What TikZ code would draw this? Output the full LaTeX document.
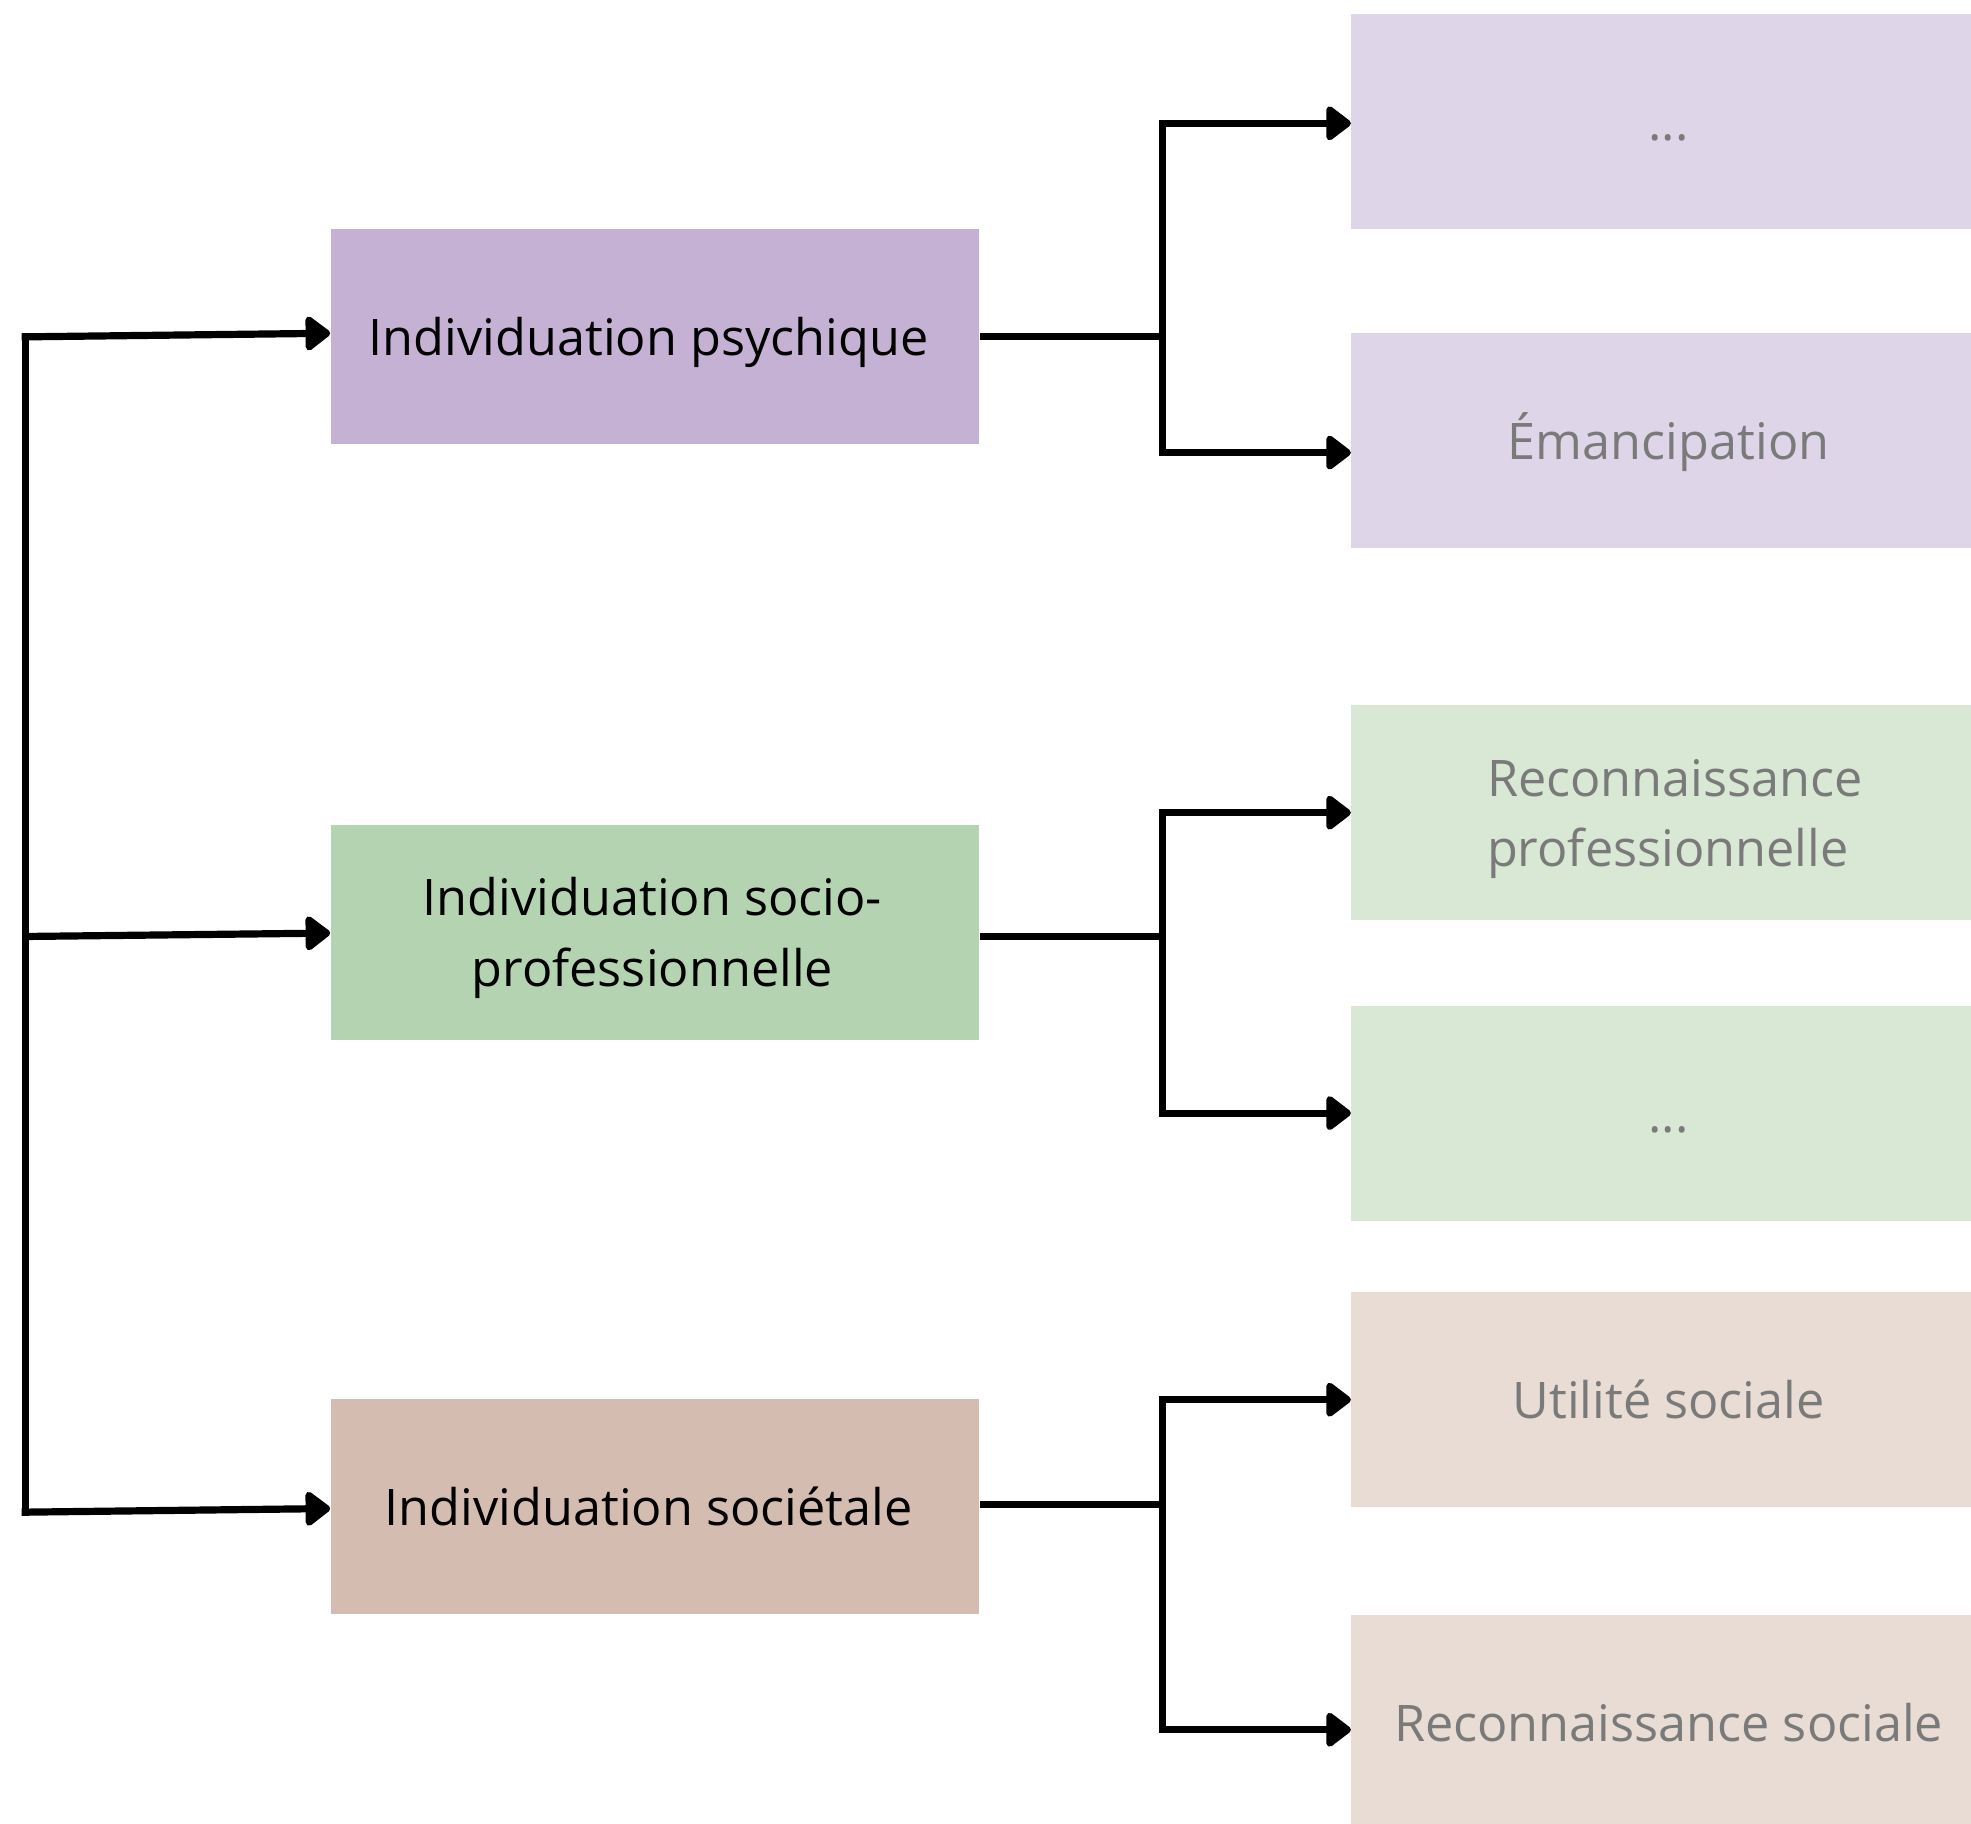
\documentclass[tikz,border=0pt]{standalone}
\usepackage{fontspec}
\setmainfont{Open Sans}
\usetikzlibrary{arrows.meta}
\definecolor{pmid}{HTML}{C5B1D4}
\definecolor{plight}{HTML}{DED6E8}
\definecolor{gmid}{HTML}{B4D4B1}
\definecolor{glight}{HTML}{D8E8D5}
\definecolor{bmid}{HTML}{D4BCB0}
\definecolor{blight}{HTML}{E8DCD4}
\definecolor{txtgrey}{HTML}{7A7A7A}
\tikzset{
  midbox/.style={minimum width=324.3pt, minimum height=107.5pt, inner sep=0pt},
  midtext/.style={inner sep=0pt, align=center, font=\fontsize{25.2}{35.5}\selectfont, text=black, text height=19pt, text depth=0pt},
  rbox/.style={minimum width=317.4pt, minimum height=107.5pt, inner sep=0pt, font=\fontsize{25.2}{35}\selectfont, text=txtgrey, text height=19pt, text depth=0pt},
  conn/.style={line width=3.6pt},
  arr/.style={line width=3.6pt, -{Triangle[round, length=13.5pt, width=19.5pt]}}
}
\begin{document}
\begin{tikzpicture}[x=0.6285pt, y=-0.6285pt]
\useasboundingbox[fill=white] (0,0) rectangle (1568,1451);
% middle boxes
\node[midbox, fill=pmid] (p1) at (521,267.5) {};
\node[midbox, fill=gmid] (p2) at (521,741.5) {};
\node[midbox, fill=bmid] (p3) at (521,1198.5) {};
\node[midtext] (t1) at (516,267.5) {Individuation psychique};
\node[midtext, text height=54.5pt] (t2) at (519,741.5) {Individuation socio-\\professionnelle};
\node[midtext] (t3) at (516,1198.5) {Individuation sociétale};
% right boxes
\node[rbox, fill=plight] (r1) at (1327.5,96.5) {...};
\node[rbox, fill=plight] (r2) at (1327.5,350.5) {Émancipation};
\node[rbox, fill=glight] (r3) at (1327.5,646.5) {};
\node[rbox, align=left, text height=54pt, minimum width=0pt, minimum height=0pt] (t4) at (1332.5,646.5) {Reconnaissance\\professionnelle};
\node[rbox, fill=glight] (r4) at (1327.5,885.5) {...};
\node[rbox, fill=blight] (r5) at (1327.5,1113.5) {Utilité sociale};
\node[rbox, fill=blight] (r6) at (1327.5,1370.5) {Reconnaissance sociale};
% left tree
\coordinate (L1) at (20,268);
\coordinate (L2) at (20,745);
\coordinate (L3) at (20,1203);
\draw[conn] ([yshift=1.8pt]L1) -- ([yshift=-1.8pt]L3);
\draw[arr] ([xshift=-1.8pt]L1) -- ([yshift=1.5pt]p1.west);
\draw[arr] (L2) -- ([yshift=-0.5pt]p2.west);
\draw[arr] ([xshift=-1.8pt]L3) -- ([yshift=-1pt]p3.west);
% right trees
\coordinate (J1) at (925,268);
\coordinate (J2) at (925,745);
\coordinate (J3) at (925,1197);
\draw[conn] (p1.east |- J1) -- (J1);
\draw[arr] ([yshift=-1.8pt]J1) |- ([yshift=-1pt]r1.west);
\draw[arr] ([yshift=1.8pt]J1) |- ([yshift=-6pt]r2.west);
\draw[conn] (p2.east |- J2) -- (J2);
\draw[arr] ([yshift=-1.8pt]J2) |- (r3.west);
\draw[arr] ([yshift=1.8pt]J2) |- (r4.west);
\draw[conn] (p3.east |- J3) -- (J3);
\draw[arr] ([yshift=-1.8pt]J3) |- (r5.west);
\draw[arr] ([yshift=1.8pt]J3) |- ([yshift=-3.5pt]r6.west);
\end{tikzpicture}
\end{document}
